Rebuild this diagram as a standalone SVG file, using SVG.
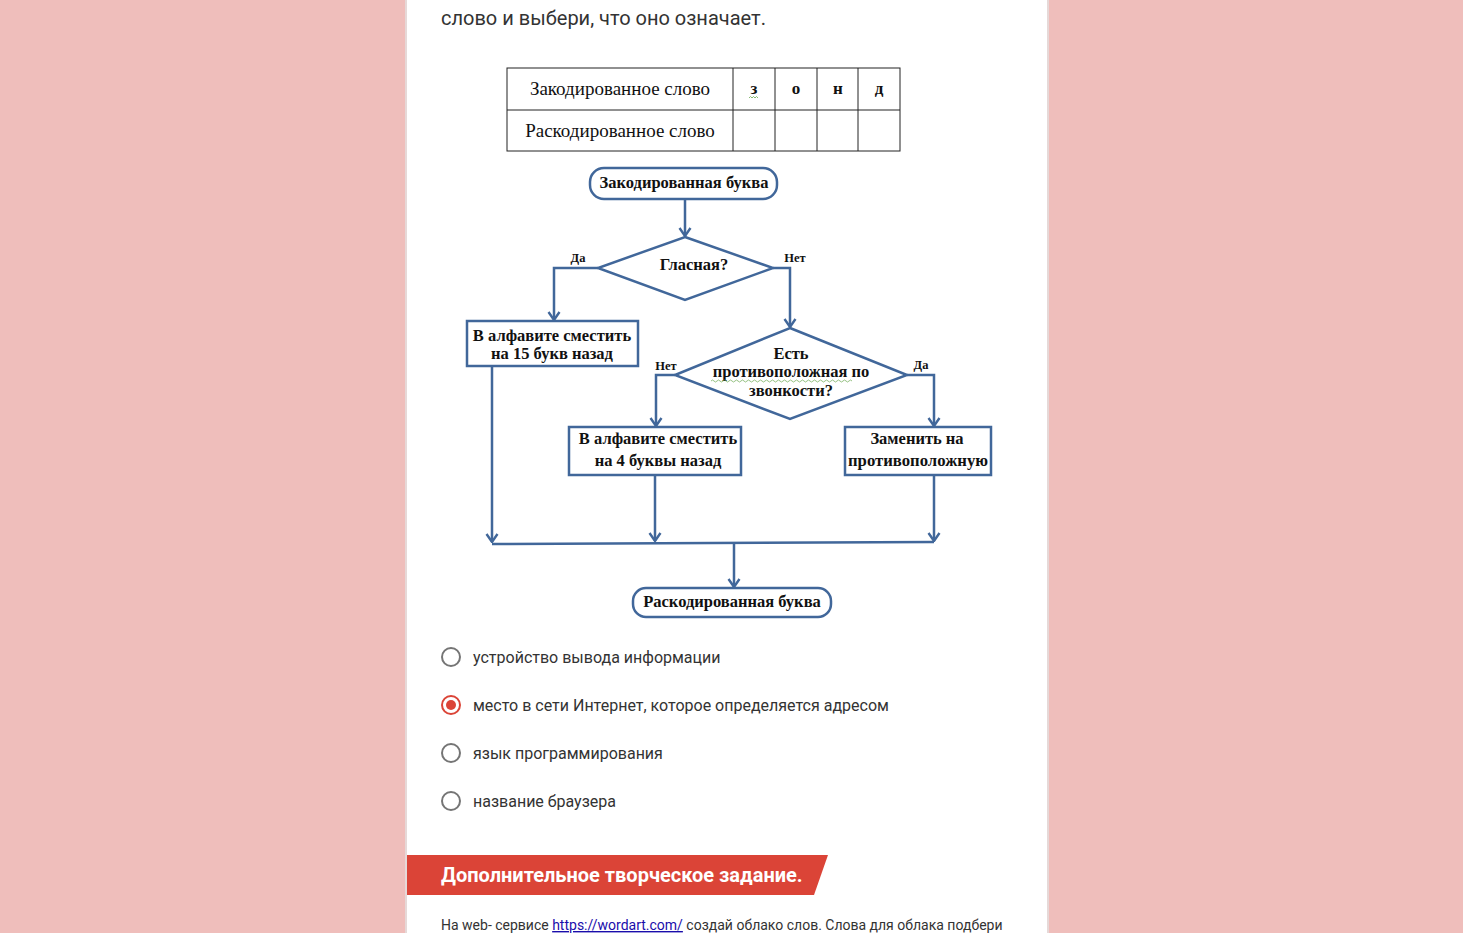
<svg xmlns="http://www.w3.org/2000/svg" width="1463" height="933" viewBox="0 0 1463 933">
<style>
.fc{fill:#fff;stroke:#41679a;stroke-width:2.5}
.ln{fill:none;stroke:#41679a;stroke-width:2.5}
.ft{font-family:"Liberation Serif","Times New Roman",serif;font-weight:bold;font-size:16.5px;fill:#111;text-anchor:middle}
.lb{font-family:"Liberation Serif","Times New Roman",serif;font-weight:bold;font-size:12.5px;fill:#111;text-anchor:middle}
.tb{fill:none;stroke:#222;stroke-width:1}
.tt{font-family:"Liberation Serif","Times New Roman",serif;font-size:19px;fill:#111;text-anchor:middle}
.tl{font-family:"Liberation Serif","Times New Roman",serif;font-weight:bold;font-size:17px;fill:#111;text-anchor:middle}
.ui{font-family:Roboto,"Liberation Sans",sans-serif;fill:#333}
.rb{fill:none;stroke:#757575;stroke-width:2}
</style>
<defs>
<marker id="ar" viewBox="0 0 14 14" refX="13" refY="7" markerWidth="14" markerHeight="14" markerUnits="userSpaceOnUse" orient="auto">
<path d="M5,1.5 L13,7 L5,12.5" fill="none" stroke="#41679a" stroke-width="2.4"/>
</marker>
</defs>
<rect width="1463" height="933" fill="#efbebb"/>
<rect x="405" y="0" width="644" height="933" fill="#e6d9d8"/>
<rect x="407" y="0" width="640" height="933" fill="#fff"/>
<text class="ui" x="441" y="25" font-size="20" fill="#202124">слово и выбери, что оно означает.</text>

<g id="table">
<rect class="tb" x="507" y="68" width="393" height="83"/>
<line class="tb" x1="507" y1="110" x2="900" y2="110"/>
<line class="tb" x1="733" y1="68" x2="733" y2="151"/>
<line class="tb" x1="775" y1="68" x2="775" y2="151"/>
<line class="tb" x1="817" y1="68" x2="817" y2="151"/>
<line class="tb" x1="858" y1="68" x2="858" y2="151"/>
<text class="tt" x="620" y="95">Закодированное слово</text>
<text class="tt" x="620" y="137">Раскодированное слово</text>
<text class="tl" x="754" y="94">з</text>
<path d="M749,98 l1.5,-1.5 l1.5,1.5 l1.5,-1.5 l1.5,1.5 l1.5,-1.5 l1.5,1.5" fill="none" stroke="#6aa84f" stroke-width="0.8"/>
<text class="tl" x="796" y="94">о</text>
<text class="tl" x="838" y="94">н</text>
<text class="tl" x="879" y="94">д</text>
</g>

<g id="connectors">
<line class="ln" x1="685" y1="199" x2="685" y2="236" marker-end="url(#ar)"/>
<polyline class="ln" points="598,268 554,268 554,320" marker-end="url(#ar)"/>
<polyline class="ln" points="773,268 790,268 790,327" marker-end="url(#ar)"/>
<line class="ln" x1="492" y1="366" x2="492" y2="542" marker-end="url(#ar)"/>
<polyline class="ln" points="675,375 656,375 656,426" marker-end="url(#ar)"/>
<polyline class="ln" points="907,375 934,375 934,426" marker-end="url(#ar)"/>
<line class="ln" x1="655" y1="475" x2="655" y2="541" marker-end="url(#ar)"/>
<line class="ln" x1="934" y1="475" x2="934" y2="541" marker-end="url(#ar)"/>
<line class="ln" x1="492" y1="544" x2="934" y2="542"/>
<line class="ln" x1="734" y1="543" x2="734" y2="587" marker-end="url(#ar)"/>
<text class="lb" x="578" y="262">Да</text>
<text class="lb" x="795" y="262">Нет</text>
<text class="lb" x="666" y="370">Нет</text>
<text class="lb" x="921" y="369">Да</text>
</g>

<g id="start">
<rect class="fc" x="590" y="168" width="187" height="31" rx="14"/>
<text class="ft" x="684" y="188">Закодированная буква</text>
</g>
<g id="vowel">
<polygon class="fc" points="685,237 773,268 685,300 598,268"/>
<text class="ft" x="694" y="270">Гласная?</text>
</g>
<g id="shift15">
<rect class="fc" x="467" y="321" width="171" height="45"/>
<text class="ft" x="552" y="341">В алфавите сместить</text>
<text class="ft" x="552" y="359">на 15 букв назад</text>
</g>
<g id="opposite">
<polygon class="fc" points="790,328 907,375 790,419 675,375"/>
<text class="ft" x="791" y="359">Есть</text>
<text class="ft" x="791" y="377">противоположная по</text>
<path d="M711,381 q1.5,-2 3,0 t3,0 t3,0 t3,0 t3,0 t3,0 t3,0 t3,0 t3,0 t3,0 t3,0 t3,0 t3,0 t3,0 t3,0 t3,0 t3,0 t3,0 t3,0 t3,0 t3,0 t3,0 t3,0 t3,0 t3,0 t3,0 t3,0 t3,0 t3,0 t3,0 t3,0 t3,0 t3,0 t3,0 t3,0 t3,0 t3,0 t3,0 t3,0 t3,0 t3,0 t3,0 t3,0 t3,0 t3,0 t3,0 t3,0" fill="none" stroke="#6aa84f" stroke-width="0.7"/>
<text class="ft" x="791" y="396">звонкости?</text>
</g>
<g id="shift4">
<rect class="fc" x="569" y="427" width="172" height="48"/>
<text class="ft" x="658" y="444">В алфавите сместить</text>
<text class="ft" x="658" y="466">на 4 буквы назад</text>
</g>
<g id="replace">
<rect class="fc" x="845" y="427" width="146" height="48"/>
<text class="ft" x="917" y="444">Заменить на</text>
<text class="ft" x="918" y="466" textLength="140" lengthAdjust="spacingAndGlyphs">противоположную</text>
</g>
<g id="end">
<rect class="fc" x="633" y="588" width="198" height="29" rx="13"/>
<text class="ft" x="732" y="607">Раскодированная буква</text>
</g>

<g id="options">
<circle class="rb" cx="451" cy="657" r="9"/>
<text class="ui" x="473" y="663" font-size="16">устройство вывода информации</text>
<circle cx="451" cy="705" r="9" fill="none" stroke="#db4437" stroke-width="2"/>
<circle cx="451" cy="705" r="5" fill="#db4437"/>
<text class="ui" x="473" y="711" font-size="16">место в сети Интернет, которое определяется адресом</text>
<circle class="rb" cx="451" cy="753" r="9"/>
<text class="ui" x="473" y="759" font-size="16">язык программирования</text>
<circle class="rb" cx="451" cy="801" r="9"/>
<text class="ui" x="473" y="807" font-size="16">название браузера</text>
</g>

<g id="banner">
<polygon points="407,855 828,855 814,895 407,895" fill="#db4437"/>
<text x="441" y="882" font-family="Roboto,'Liberation Sans',sans-serif" font-weight="bold" font-size="20" fill="#fff">Дополнительное творческое задание.</text>
</g>
<text class="ui" x="441" y="930" font-size="14">На web- сервисе <tspan fill="#1a0dab" text-decoration="underline">https://wordart.com/</tspan> создай облако слов. Слова для облака подбери</text>
</svg>
